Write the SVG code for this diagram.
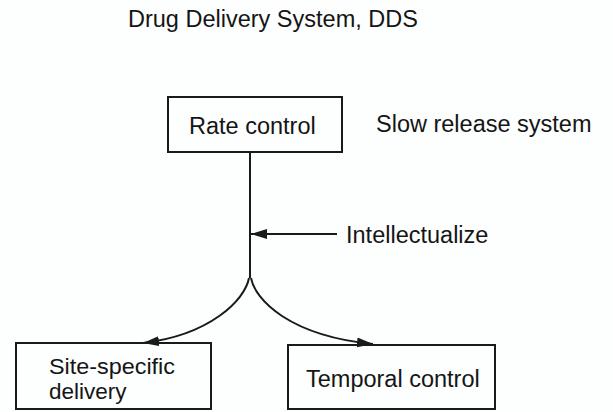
<svg xmlns="http://www.w3.org/2000/svg" width="613" height="412" viewBox="0 0 613 412">
<defs>
<marker id="ah" viewBox="0 0 16 10" refX="16" refY="5" markerWidth="16" markerHeight="10" markerUnits="userSpaceOnUse" orient="auto">
<path d="M0,0 L16,5 L0,10 Z" fill="#1a1a1a"/>
</marker>
<style>
.box{fill:none;stroke:#1a1a1a;stroke-width:2}
.t{font-family:"Liberation Sans",Arial,sans-serif;font-size:23.5px;fill:#151515}
.s{font-size:22.5px}
.ln{fill:none;stroke:#1a1a1a;stroke-width:2}
</style>
</defs>
<rect width="613" height="412" fill="#fdfefe"/>
<text class="t" x="128" y="27">Drug Delivery System, DDS</text>
<text class="t" x="376" y="132">Slow release system</text>
<text class="t" x="346" y="243">Intellectualize</text>
<g id="connectors">
<path class="ln" d="M250,152 V278"/>
<path class="ln" d="M337,234 H251" marker-end="url(#ah)"/>
<path class="ln" d="M249,278 C245,300 210,335 143,343" marker-end="url(#ah)"/>
<path class="ln" d="M251,278 C255,300 290,336 373,344" marker-end="url(#ah)"/>
</g>
<g id="rate">
<rect class="box" x="168" y="97" width="174" height="55"/>
<text class="t" x="189" y="134">Rate control</text>
</g>
<g id="site">
<rect class="box" x="16" y="343" width="195" height="66"/>
<text class="t s" x="49" y="374" textLength="126" lengthAdjust="spacingAndGlyphs">Site-specific</text>
<text class="t s" x="49" y="399">delivery</text>
</g>
<g id="temporal">
<rect class="box" x="288" y="345" width="207" height="64"/>
<text class="t" x="306" y="387">Temporal control</text>
</g>
</svg>
